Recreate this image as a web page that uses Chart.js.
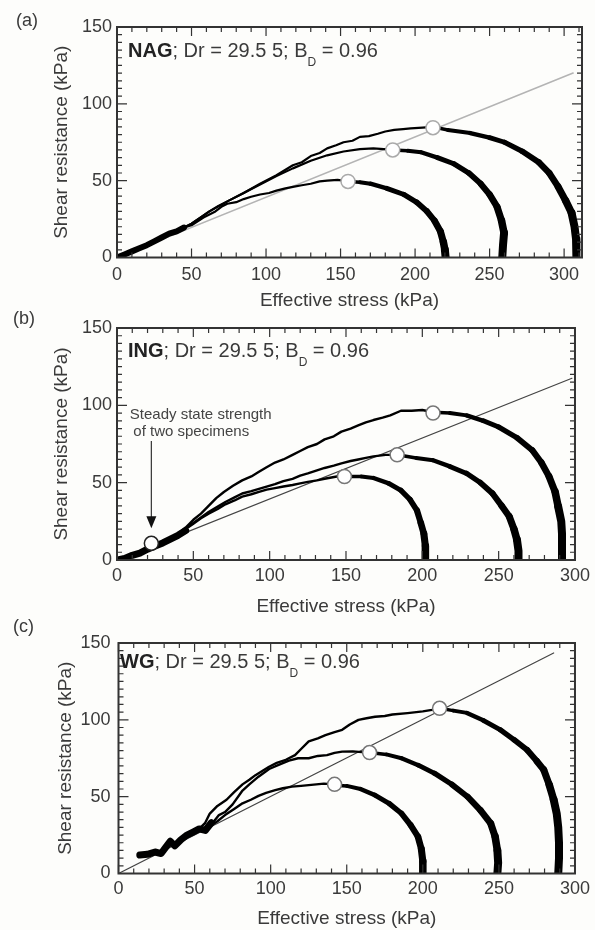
<!DOCTYPE html>
<html>
<head>
<meta charset="utf-8">
<script src="https://cdn.jsdelivr.net/npm/chart.js@4.4.1/dist/chart.umd.min.js"></script>
<style>
  body { margin: 0; background: #fdfdfb; width: 595px; height: 930px; overflow: hidden; }
  .panel { position: absolute; left: 0; width: 595px; }
</style>
</head>
<body>
<div class="panel" style="top:0;height:312px"><canvas id="chartA"></canvas></div>
<div class="panel" style="top:300px;height:320px"><canvas id="chartB"></canvas></div>
<div class="panel" style="top:612px;height:318px"><canvas id="chartC"></canvas></div>
<script>
// ---- data: [effective stress, shear resistance] in kPa ----
const yTicks = [0, 50, 100, 150];
const xTicks = [0, 50, 100, 150, 200, 250, 300];

// (a) NAG
const nagStart = [[0,0],[5,2],[10,4],[15,6],[20,8],[25,10.5],[30,13],[35,15.5],[40,17],[45,19.5]];
const nagRise1 = [[45,19.5],[50,22],[56,26],[62,30],[68,33.5],[75,37],[85,42],[96,48],[107,53.5],[118,60],[124,62],[130,66],[136,68],[141,71],[147,73],[152,75],[158,76],[163,78.5],[169,79],[175,80.5],[180,82],[186,83],[192,83.5],[197,84],[205,84.5],[212,85]];
const nagRise2 = [[45,19.5],[50,22],[62,30],[75,37],[85,42],[96,47.5],[107,53],[118,58],[130,63],[141,66.5],[152,69],[163,70.5],[172,71],[179,70.5],[185,70]];
const nagRise3 = [[45,19.5],[50,21],[58,26],[66,30],[70,33],[74,35],[80,36],[85,38],[90,39.5],[96,41],[102,42],[107,43.5],[113,45],[118,46],[124,47],[130,48],[136,49.5],[141,50],[148,50.5],[155,49.5]];
const nagFall1 = [[212,85],[222,83],[237,81],[250,78],[260,75],[272,69],[283,62],[290,55],[296,46],[301,37],[305,29],[307,20],[308,12],[308.5,5],[308,0]];
const nagFall2 = [[185,70],[195,69.5],[204,68.5],[215,65],[226,61],[236,55],[244,48],[250,41],[255,33],[258,24],[259.7,16],[259,8],[258.5,0]];
const nagFall3 = [[155,49.5],[163,49],[170,48],[181,45],[192.5,41],[201,36],[208,30],[213,24],[217,17],[219,10],[220,5],[220.5,0]];
const nagLine = [[0,0],[306,120]];
const nagPeaks = [[212,84.5],[185,70],[155,49.5]];

// (b) ING
const ingStart = [[0,0],[5,1],[10,3],[15,4.5],[20,7],[25,9],[30,11],[35,13.5],[40,16],[45,19]];
const ingRise1 = [[40,17],[45,21],[50,26],[55,30],[60,35],[65,40],[70,44],[76,48],[82,51.5],[88,54],[93,57],[98,60],[103.5,63],[109,65],[115,68],[120,70.5],[125,73],[131,75],[136,78],[142,80],[147,83],[153,85],[158,87],[163,89],[168,90.5],[174,92],[179,93.5],[186,96.5],[193,96.5],[200,97],[207,95.5]];
const ingRise2 = [[40,17],[45,20.5],[50,24],[55,27.5],[60,31],[66,34.5],[71,37.5],[77,40.5],[82,43],[88,44.5],[93,46],[98,47.5],[103.5,49],[109,51],[115,52.5],[120,54.5],[125,56],[131,58],[136,59.5],[142,61],[147,62.5],[153,64],[158,65],[163,66],[168,67],[176,68],[183.5,68]];
const ingRise3 = [[40,17],[45,20],[50,23.5],[55,27],[60,30],[66,33],[71,36],[77,38.5],[82,41],[88,42.5],[93,44],[98,45.5],[103.5,46.5],[109,47.5],[115,48.5],[120,49.5],[125,50.5],[131,51.5],[136,52.5],[144,54],[149,54]];
const ingFall1 = [[207,95.5],[218,95],[229,93.5],[240,90],[250,86],[262,79],[272,71],[278,63],[283,54],[287,44],[289,34.5],[291,25],[291.5,17],[291.5,8],[291.5,0]];
const ingFall2 = [[183.5,68],[196,66],[207,64.5],[218,60.5],[229,56],[238,50],[246,43],[252,35],[257,28],[260,20],[262,13],[263,6],[263,0]];
const ingFall3 = [[149,54],[160,54],[168,53],[178,49.5],[186,45],[192,39],[196.5,32],[199,24],[201,17],[202,9],[202,0]];
const ingLine = [[0,0],[298,117.5]];
const ingPeaks = [[207,95],[183.5,68],[149,54]];
const ingSteady = [[22.5,10.8]];

// (c) WG
const wgStart = [[14,12],[19,12.5],[24,14],[28,13],[31,17],[34,21],[37,18],[41,22],[45,25],[49,27],[53,29],[57,28],[61,33]];
const wgRise1 = [[53,29],[57,33],[60,39],[65,44],[71,48],[76,53],[81.5,58],[86,61],[90,64],[95,67],[99,69.5],[104,72],[110,74],[116,77],[120,81],[125,86],[131,88],[136,90],[142,92],[147,93.5],[152,97],[157.7,100],[163,101],[168.6,102],[175,102.5],[180,103.5],[190,104.4],[200,105.5],[206,106.5],[211,107.5]];
const wgRise2 = [[57,28],[62,33],[66,38],[70,40],[75,45],[81.5,54],[86,58],[92,63],[99,68],[106,71],[112,73.5],[118,75],[125,75],[131,76.5],[137,77],[142,78.5],[147,79.3],[154,79.5],[160,79],[165,78.7]];
const wgRise3 = [[53,29],[60,30.5],[65,34],[70,38],[76,42],[81.5,45.7],[87,48],[92,50.5],[97,52.5],[103,54.3],[108,55.5],[114,56.5],[120,57],[125,57.5],[135,58.5],[142,58]];
const wgFall1 = [[211,107.5],[220,106],[229,104.5],[240,99.5],[251,93.5],[260,87],[268.6,80.4],[275,73],[279.5,67.4],[283,58],[286,48],[288,39],[289,30],[289.5,20],[289.5,10],[289,0]];
const wgFall2 = [[165,78.7],[176,77.5],[186,75],[197,70.5],[207.7,65.2],[219,58],[229.4,50],[238,41],[244.6,32.6],[247.5,24],[249,15],[249.5,7],[249,0]];
const wgFall3 = [[142.5,57.5],[150,57],[159,55],[168.5,51],[178,45.5],[186,39],[192,31.5],[196.8,24],[199,16],[200,8],[200,0]];
const wgLine = [[0,0],[286,143.5]];
const wgPeaks = [[211,107.5],[165,78.7],[142,58]];

// ---- drawing ----
Chart.defaults.font.family = '"Liberation Sans", Arial, sans-serif';
Chart.defaults.color = '#3a3a3a';

const pts = arr => arr.map(p => ({ x: p[0], y: p[1] }));

function pathSet(arr, width, color) {
  return { data: pts(arr), showLine: true, borderColor: color || '#000', borderWidth: width,
           pointRadius: 0, tension: 0, borderJoinStyle: 'round', borderCapStyle: 'round' };
}
function fallSet(arr) {
  const s = pathSet(arr, 4);
  s.segment = { borderWidth: c => Math.min(3.5 + c.p0DataIndex * 0.45, 8) };
  return s;
}
function circleSet(arr, edge, r) {
  return { data: pts(arr), showLine: false, pointRadius: r || 7, pointHoverRadius: r || 7,
           pointBackgroundColor: '#fff', pointBorderColor: edge, pointBorderWidth: 1.5 };
}

const frameTicks = {
  id: 'frameTicks',
  afterDatasetsDraw(chart, args, opts) {
    const { ctx, chartArea: a, scales: { x, y } } = chart;
    ctx.save();
    ctx.strokeStyle = '#333';
    ctx.lineWidth = 1.2;
    ctx.beginPath();
    for (let v = 0; v <= x.max; v += 10) {
      const px = x.getPixelForValue(v);
      const len = v % 50 === 0 ? 9 : 5;
      ctx.moveTo(px, a.bottom); ctx.lineTo(px, a.bottom - len);
      ctx.moveTo(px, a.top); ctx.lineTo(px, a.top + len);
    }
    for (let v = 0; v <= y.max; v += 5) {
      const py = y.getPixelForValue(v);
      const len = v % 50 === 0 ? 10 : 5;
      ctx.moveTo(a.left, py); ctx.lineTo(a.left + len, py);
      ctx.moveTo(a.right, py); ctx.lineTo(a.right - len, py);
    }
    ctx.stroke();
    ctx.lineWidth = 2;
    ctx.strokeRect(a.left, a.top, a.right - a.left, a.bottom - a.top);

    // panel note: "NAG; Dr = 29.5 5; B_D = 0.96"
    let tx = a.left + opts.noteDx;
    const ty = a.top + opts.noteDy;
    ctx.fillStyle = '#222';
    ctx.textBaseline = 'alphabetic';
    ctx.textAlign = 'left';
    ctx.font = 'bold 20px "Liberation Sans", Arial, sans-serif';
    ctx.fillText(opts.name, tx, ty); tx += ctx.measureText(opts.name).width;
    ctx.fillStyle = '#3a3a3a';
    ctx.font = '20px "Liberation Sans", Arial, sans-serif';
    ctx.fillText('; Dr = 29.5 5; B', tx, ty); tx += ctx.measureText('; Dr = 29.5 5; B').width;
    ctx.font = '12px "Liberation Sans", Arial, sans-serif';
    ctx.fillText('D', tx, ty + 9); tx += ctx.measureText('D').width;
    ctx.font = '20px "Liberation Sans", Arial, sans-serif';
    ctx.fillText(' = 0.96', tx, ty);

    // panel letter
    ctx.font = '18px "Liberation Sans", Arial, sans-serif';
    ctx.fillText(opts.letter, opts.letterX, opts.letterY);

    if (opts.arrow) {
      const ar = opts.arrow;
      const ax = x.getPixelForValue(ar.x);
      const y0 = y.getPixelForValue(ar.from), y1 = y.getPixelForValue(ar.to);
      ctx.strokeStyle = '#333'; ctx.lineWidth = 1.2;
      ctx.beginPath(); ctx.moveTo(ax, y0); ctx.lineTo(ax, y1 - 10); ctx.stroke();
      ctx.fillStyle = '#111';
      ctx.beginPath(); ctx.moveTo(ax - 5, y1 - 12); ctx.lineTo(ax + 5, y1 - 12); ctx.lineTo(ax, y1); ctx.closePath(); ctx.fill();
      ctx.fillStyle = '#444';
      ctx.font = '15px "Liberation Sans", Arial, sans-serif';
      ctx.fillText('Steady state strength', x.getPixelForValue(ar.textX), y.getPixelForValue(ar.textY1));
      ctx.fillText('of two specimens', x.getPixelForValue(ar.textX) + 3.5, y.getPixelForValue(ar.textY2));
    }
    ctx.restore();
  }
};

function makePanel(id, p) {
  new Chart(document.getElementById(id), {
    type: 'scatter',
    data: { datasets: p.datasets },
    options: {
      responsive: true,
      maintainAspectRatio: false,
      animation: false,
      layout: { padding: { top: p.area.top, right: 595 - p.area.right, left: 0, bottom: 0 } },
      plugins: {
        legend: { display: false },
        tooltip: { enabled: false },
        frameTicks: p.note
      },
      scales: {
        x: {
          type: 'linear', min: 0, max: p.xMax,
          grid: { display: false, drawTicks: false },
          border: { display: false },
          ticks: { stepSize: 50, includeBounds: false, padding: p.xTickPad, color: '#3a3a3a',
                   font: { size: 18 }, maxRotation: 0,
                   callback: v => xTicks.includes(v) ? String(v) : '' },
          title: { display: true, text: 'Effective stress (kPa)', color: '#3a3a3a',
                   font: { size: 19 }, padding: { top: 0, bottom: p.xTitlePad } },
          afterFit: s => { s.height = p.canvasH - p.area.bottom; }
        },
        y: {
          type: 'linear', min: 0, max: 150,
          grid: { display: false, drawTicks: false },
          border: { display: false },
          ticks: { stepSize: 50, padding: p.yTickPad, color: '#3a3a3a', font: { size: 18 },
                   callback: v => yTicks.includes(v) ? String(v) : '' },
          title: { display: true, text: 'Shear resistance (kPa)', color: '#3a3a3a',
                   font: { size: 19 }, padding: { top: p.yTitlePad, bottom: 0 } },
          afterFit: s => { s.width = p.area.left; }
        }
      }
    },
    plugins: [frameTicks]
  });
}

makePanel('chartA', {
  canvasH: 312, xMax: 312,
  area: { left: 117, right: 582, top: 27, bottom: 257.5 },
  xTickPad: 7, yTickPad: 5, yTitlePad: 50, xTitlePad: 0,
  note: { name: 'NAG', noteDx: 11, noteDy: 29.5, letter: '(a)', letterX: 16, letterY: 26 },
  datasets: [
    circleSet(nagPeaks, '#aaa'),
    fallSet(nagFall1), fallSet(nagFall2), fallSet(nagFall3),
    pathSet(nagRise1, 2.2), pathSet(nagRise2, 2.2), pathSet(nagRise3, 2.2),
    pathSet(nagStart, 6),
    pathSet(nagLine, 1.6, '#b4b4b4')
  ]
});

makePanel('chartB', {
  canvasH: 320, xMax: 300,
  area: { left: 117, right: 580, top: 28, bottom: 260 },
  xTickPad: 5, yTickPad: 5, yTitlePad: 50, xTitlePad: 2,
  note: { name: 'ING', noteDx: 11, noteDy: 29, letter: '(b)', letterX: 13, letterY: 24,
          arrow: { x: 22.5, from: 77, to: 20.5, textX: 8.4, textY1: 91, textY2: 80 } },
  datasets: [
    circleSet(ingSteady, '#222', 7),
    circleSet(ingPeaks, '#777'),
    fallSet(ingFall1), fallSet(ingFall2), fallSet(ingFall3),
    pathSet(ingRise1, 2.4), pathSet(ingRise2, 2.4), pathSet(ingRise3, 2.4),
    pathSet(ingStart, 7),
    pathSet(ingLine, 1.2, '#444')
  ]
});

makePanel('chartC', {
  canvasH: 318, xMax: 300,
  area: { left: 118.5, right: 580, top: 31, bottom: 261.5 },
  xTickPad: 5, yTickPad: 8, yTitlePad: 54, xTitlePad: 0,
  note: { name: 'WG', noteDx: 1.5, noteDy: 25, letter: '(c)', letterX: 13, letterY: 20 },
  datasets: [
    circleSet(wgPeaks, '#777'),
    fallSet(wgFall1), fallSet(wgFall2), fallSet(wgFall3),
    pathSet(wgRise1, 2.4), pathSet(wgRise2, 2.4), pathSet(wgRise3, 2.4),
    pathSet(wgStart, 7),
    pathSet(wgLine, 1.2, '#444')
  ]
});
</script>
</body>
</html>
